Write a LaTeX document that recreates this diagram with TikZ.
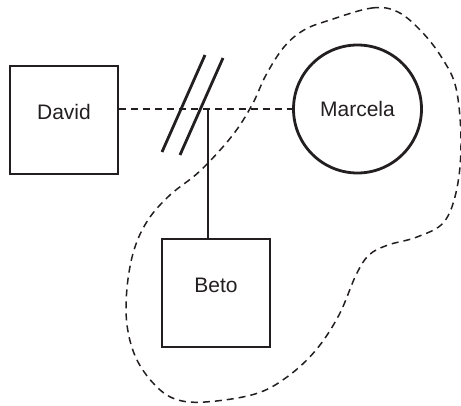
\documentclass[tikz,border=0pt]{standalone}
\usepackage{fontspec}
\setmainfont{Liberation Sans}
\usepackage{tikz}
\usetikzlibrary{positioning,calc}
\definecolor{ink}{HTML}{231F20}

\begin{document}
\begin{tikzpicture}[x=1pt,y=-1pt,
			male/.style={draw=ink,line width=2.8pt,minimum size=108pt,inner sep=0pt},
			female/.style={circle,draw=ink,line width=2.8pt,minimum size=128pt,inner sep=0pt,font=\fontsize{21}{25}\selectfont,text=ink},
			nametag/.style={inner sep=0pt,font=\fontsize{21}{25}\selectfont,text=ink},
			union/.style={draw=ink,line width=2.8pt,dash pattern=on 7pt off 5pt},
			child/.style={draw=ink,line width=2.8pt},
			cut/.style={draw=ink,line width=2.8pt},
			household/.style={draw=ink,line width=1.5pt,dash pattern=on 7pt off 5pt}
			]
			\useasboundingbox (0,0) rectangle (461,406);
			% persons
			\node[male] (david) at (64,120) {};
			\node[nametag] (davidtxt) at ([yshift=8pt]david.center) {David};
			\node[female] (marcela) at (357.5,109) {Marcela};
			\node[male] (beto) at (216,293) {};
			\node[nametag] (betotxt) at ([yshift=8pt]beto.center) {Beto};
			% relations
			\coordinate (drop) at (208,109);
			\draw[union] (david.east |- marcela.west) -- (marcela.west);
			\draw[child] (drop) -- (drop |- beto.north);
			\draw[cut] (205,55) -- (162,152);
			\draw[cut] (223,58) -- (180,155);
			% household boundary
			\draw[household] plot[smooth cycle,tension=0.6] coordinates {
				(330,20) (372,8) (398,12) (422,32) (442,58) (456,88) (461,140) (457,188)
				(444,222) (417,237) (388,245) (369,255) (356,275) (339,315) (316,350)
				(287,377) (255,394) (205,402) (175,399) (154,384) (136,358) (127,325)
				(127,288) (134,250) (148,220) (170,195) (200,171) (232,136) (252,105)
				(266,75) (284,47) (304,30)};
		\end{tikzpicture}
\end{document}
